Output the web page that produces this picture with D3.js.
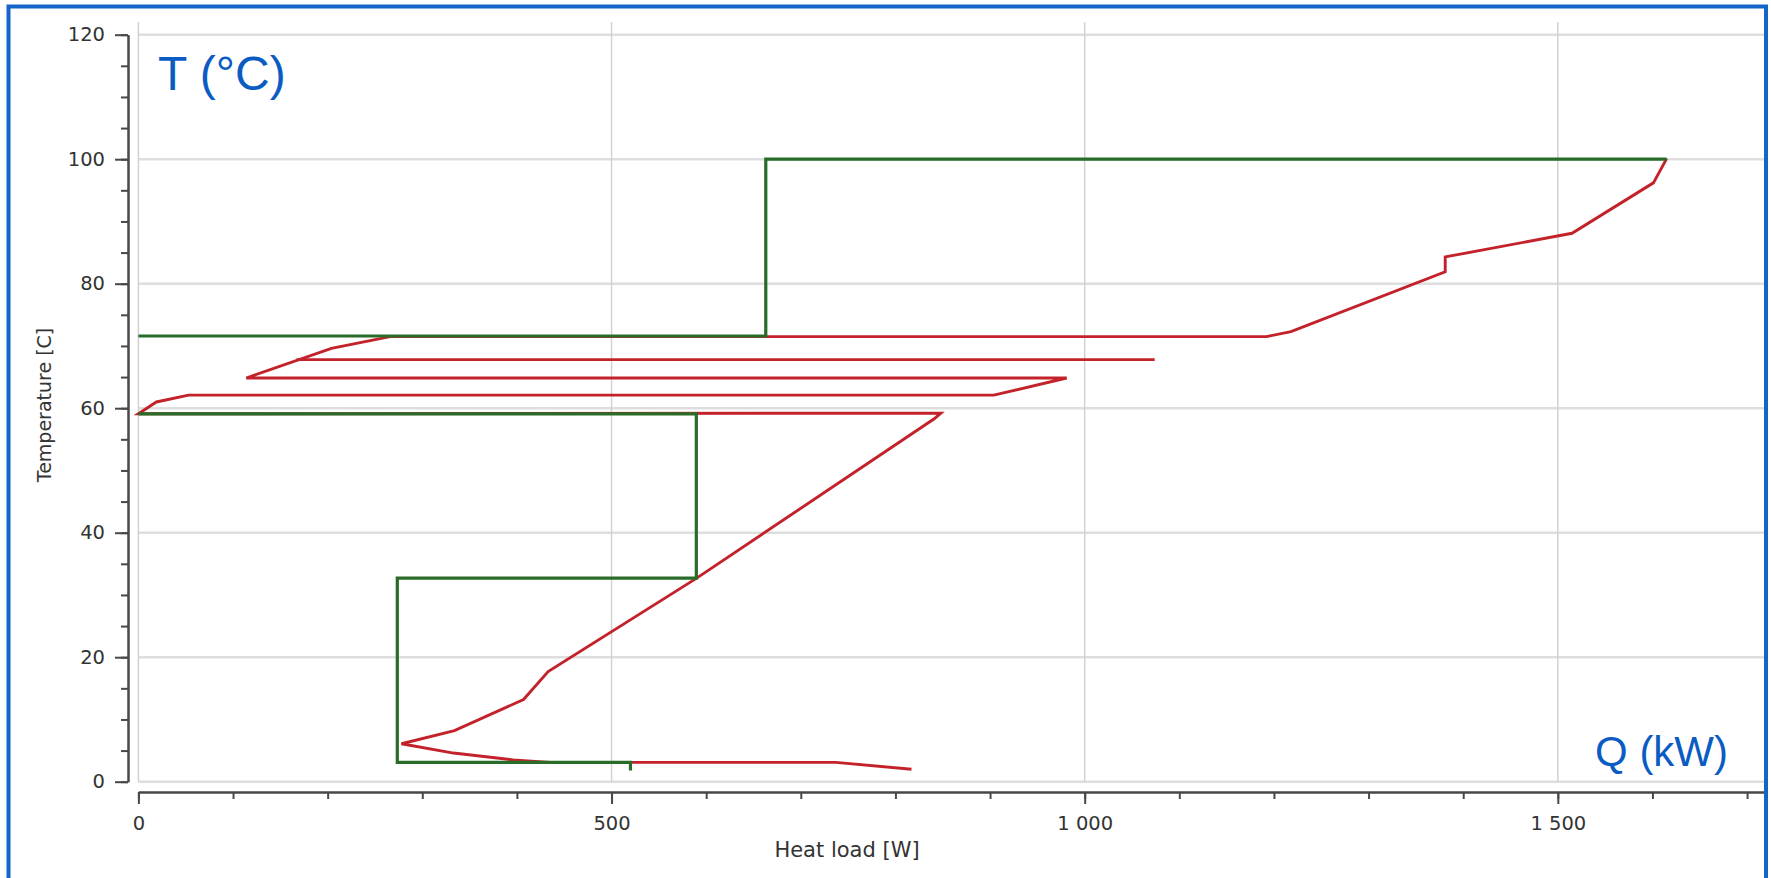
<!DOCTYPE html>
<html>
<head>
<meta charset="utf-8">
<script src="https://cdn.jsdelivr.net/npm/d3@7"></script>
<style>
  html, body { margin: 0; padding: 0; background: #ffffff; }
  svg { display: block; }
</style>
</head>
<body>
<svg id="chart" width="1771" height="878"></svg>
<script>
// Axis ticks
const qMajorTicks = [0, 500, 1000, 1500];
const qMinorTicks = d3.range(0, 1800, 100);
const tMajorTicks = [0, 20, 40, 60, 80, 100, 120];
const tMinorTicks = d3.range(0, 121, 5);

// Cold composite curve (green), lower part: heat load [W] and temperature [C]
const coldLowerQ = [520, 520, 273.6, 273.6, 589.6, 589.6, 0];
const coldLowerT = [1.8, 3.1, 3.1, 32.7, 32.7, 59.1, 59.1];
// Cold composite curve (green), upper part
const coldUpperQ = [0, 663, 663, 1615];
const coldUpperT = [71.6, 71.6, 100.0, 100.0];

// Hot composite curve (red)
const hotQ = [1615, 1601, 1515, 1381, 1381, 1218, 1192, 266, 204, 114, 981, 904, 53, 19, 0,
              848, 841, 590, 433, 407, 334, 278, 333, 396, 435, 737, 817];
const hotT = [100.1, 96.2, 88.1, 84.3, 81.9, 72.3, 71.5, 71.5, 69.6, 64.85, 64.85, 62.1, 62.1, 61.0, 59.1,
              59.2, 58.3, 32.7, 17.7, 13.2, 8.2, 6.1, 4.6, 3.5, 3.1, 3.1, 2.0];
// Hot stream segment at 67.8 C
const hotSegQ = [167, 1074];
const hotSegT = [67.8, 67.8];

const svg = d3.select("#chart");

const x = d3.scaleLinear().domain([0, 1720]).range([138.4, 1766]);
const y = d3.scaleLinear().domain([0, 120]).range([781.7, 34.7]);

const locale = d3.formatLocale({ decimal: ",", thousands: "\u00a0", grouping: [3], currency: ["", ""] });
const fmt = locale.format(",d");

// Grid
const grid = svg.append("g");
grid.selectAll("line.h").data(tMajorTicks).join("line")
  .attr("x1", x(0)).attr("x2", x(1720))
  .attr("y1", d => y(d)).attr("y2", d => y(d))
  .attr("stroke", "#dedede").attr("stroke-width", 2.5);
grid.selectAll("line.v").data(qMajorTicks).join("line")
  .attr("x1", d => x(d)).attr("x2", d => x(d))
  .attr("y1", y(122)).attr("y2", y(0))
  .attr("stroke", "#d2d2d2").attr("stroke-width", 1.5);

// X axis
const xAxisY = 792;
const xMinor = svg.append("g").attr("transform", `translate(0,${xAxisY})`)
  .call(d3.axisBottom(x).tickValues(qMinorTicks).tickSize(7).tickSizeOuter(0).tickFormat(""));
const xMajor = svg.append("g").attr("transform", `translate(0,${xAxisY})`)
  .call(d3.axisBottom(x).tickValues(qMajorTicks).tickSize(12).tickSizeOuter(0).tickPadding(12).tickFormat(fmt));

// Y axis
const yAxisX = 128;
const yMinor = svg.append("g").attr("transform", `translate(${yAxisX},0)`)
  .call(d3.axisLeft(y).tickValues(tMinorTicks).tickSize(7).tickSizeOuter(0).tickFormat(""));
const yMajor = svg.append("g").attr("transform", `translate(${yAxisX},0)`)
  .call(d3.axisLeft(y).tickValues(tMajorTicks).tickSize(13).tickSizeOuter(0).tickPadding(10));

[xMinor, xMajor, yMinor, yMajor].forEach(g => {
  g.select(".domain").attr("stroke", "#484848").attr("stroke-width", 2);
  g.selectAll(".tick line").attr("stroke", "#484848").attr("stroke-width", 2);
  g.selectAll(".tick text")
    .attr("fill", "#333333")
    .style("font-family", "'DejaVu Sans', Verdana, sans-serif")
    .style("font-size", "19.5px");
});

// Axis titles
svg.append("text")
  .attr("x", 847).attr("y", 857)
  .attr("text-anchor", "middle")
  .attr("fill", "#333333")
  .style("font-family", "'DejaVu Sans', Verdana, sans-serif")
  .style("font-size", "21px")
  .text("Heat load [W]");

svg.append("text")
  .attr("transform", "translate(51,405) rotate(-90)")
  .attr("text-anchor", "middle")
  .attr("fill", "#333333")
  .style("font-family", "'DejaVu Sans', Verdana, sans-serif")
  .style("font-size", "19px")
  .text("Temperature [C]");

// Curves
const line = d3.line().x(d => x(d[0])).y(d => y(d[1]));
const zip = (a, b) => a.map((v, i) => [v, b[i]]);

const curves = svg.append("g").attr("fill", "none").attr("stroke-linejoin", "miter");
curves.append("path").datum(zip(hotQ, hotT)).attr("d", line)
  .attr("stroke", "#c4222b").attr("stroke-width", 2.9);
curves.append("path").datum(zip(hotSegQ, hotSegT)).attr("d", line)
  .attr("stroke", "#c4222b").attr("stroke-width", 2.9);
curves.append("path").datum(zip(coldLowerQ, coldLowerT)).attr("d", line)
  .attr("stroke", "#286c28").attr("stroke-width", 3.2);
curves.append("path").datum(zip(coldUpperQ, coldUpperT)).attr("d", line)
  .attr("stroke", "#286c28").attr("stroke-width", 3.2);

// Annotations
svg.append("text")
  .attr("x", 158).attr("y", 90)
  .attr("fill", "#0b5cc2")
  .style("font-family", "'Liberation Sans', Arial, sans-serif")
  .style("font-size", "48px")
  .text("T (°C)");

svg.append("text")
  .attr("x", 1728).attr("y", 766)
  .attr("text-anchor", "end")
  .attr("fill", "#0b5cc2")
  .style("font-family", "'Liberation Sans', Arial, sans-serif")
  .style("font-size", "42px")
  .text("Q (kW)");

// Frame
svg.append("rect")
  .attr("x", 8.5).attr("y", 6.5)
  .attr("width", 1757.5).attr("height", 900)
  .attr("fill", "none")
  .attr("stroke", "#1565c8")
  .attr("stroke-width", 4);
</script>
</body>
</html>
